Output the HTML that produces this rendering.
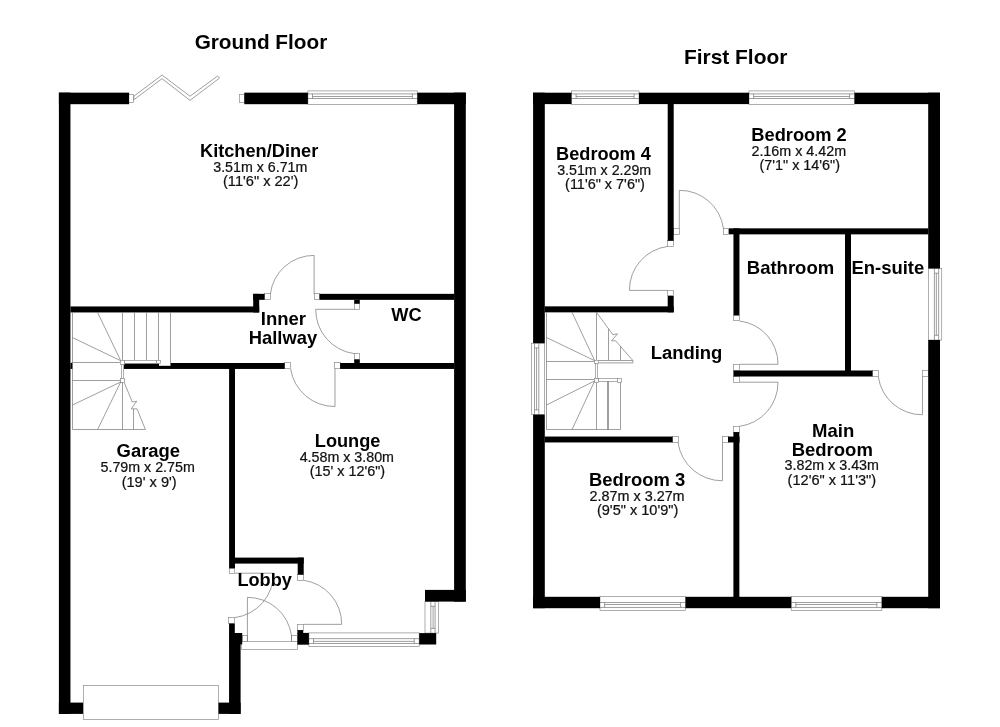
<!DOCTYPE html>
<html><head><meta charset="utf-8"><title>Floor Plan</title>
<style>
html,body{margin:0;padding:0;background:#fff;}
body{width:1000px;height:727px;overflow:hidden;font-family:"Liberation Sans",sans-serif;}
svg{display:block;}
.w{fill:#000;}
.wh{fill:#fff;}
.j{fill:#fff;stroke:#8c8c8c;stroke-width:0.7;}
.t{fill:none;stroke:#767676;stroke-width:0.7;}
.tf{fill:#fff;stroke:#767676;stroke-width:0.7;stroke-linejoin:miter;}
text{font-family:"Liberation Sans",sans-serif;text-anchor:start;fill:#000;}
.h1{font-weight:bold;}
.b{font-weight:bold;}
.r{fill:#111;stroke:#111;stroke-width:0.22px;}
</style></head>
<body>
<svg style="filter:grayscale(1)" width="1000" height="727" viewBox="0 0 1000 727">
<rect x="0" y="0" width="1000" height="727" fill="#fff"/>
<g id="thin">
<rect class="j" x="307.90" y="90.90" width="109.40" height="13.60"/>
<line class="t" x1="307.90" y1="93.90" x2="417.30" y2="93.90"/>
<line class="t" x1="307.90" y1="98.50" x2="417.30" y2="98.50"/>
<line class="t" x1="312.50" y1="96.50" x2="412.40" y2="96.50"/>
<line class="t" x1="312.50" y1="93.90" x2="312.50" y2="98.50"/>
<line class="t" x1="412.40" y1="93.90" x2="412.40" y2="98.50"/>
<rect class="j" x="308.90" y="632.90" width="110.30" height="13.50"/>
<line class="t" x1="308.90" y1="643.50" x2="419.20" y2="643.50"/>
<line class="t" x1="308.90" y1="638.65" x2="419.20" y2="638.65"/>
<line class="t" x1="313.50" y1="641.40" x2="414.30" y2="641.40"/>
<line class="t" x1="313.50" y1="643.50" x2="313.50" y2="638.65"/>
<line class="t" x1="414.30" y1="643.50" x2="414.30" y2="638.65"/>
<rect class="j" x="425.00" y="601.60" width="13.50" height="31.50"/>
<line class="t" x1="435.10" y1="601.60" x2="435.10" y2="633.10"/>
<line class="t" x1="430.80" y1="601.60" x2="430.80" y2="633.10"/>
<line class="t" x1="433.10" y1="606.30" x2="433.10" y2="628.40"/>
<line class="t" x1="435.10" y1="606.30" x2="430.80" y2="606.30"/>
<line class="t" x1="435.10" y1="628.40" x2="430.80" y2="628.40"/>
<rect class="j" x="83.50" y="685.50" width="135.00" height="34.00"/>
<rect class="j" x="128.50" y="94.50" width="5.00" height="8.00"/>
<rect class="j" x="239.50" y="94.50" width="5.00" height="8.00"/>
<path class="tf" d="M133.8,96.2 L162.05,75.1 L190,96.2 L217.6,76 L219.6,78 L190,100.4 L162.05,78.65 L133.8,99.8 Z"/>
<rect class="j" x="264.50" y="293.50" width="6.00" height="6.00"/>
<rect class="j" x="314.50" y="293.50" width="5.00" height="6.00"/>
<path class="t" d="M314.10,293.90 L314.10,255.40 A43.70,43.70 0 0 0 270.40,293.90"/>
<rect class="j" x="354.50" y="303.50" width="5.00" height="6.00"/>
<rect class="j" x="354.50" y="353.50" width="5.00" height="6.00"/>
<path class="t" d="M354.20,309.30 L315.70,309.30 A44.30,44.30 0 0 0 354.20,353.60"/>
<rect class="j" x="284.50" y="362.50" width="6.00" height="6.00"/>
<rect class="j" x="334.50" y="362.50" width="6.00" height="6.00"/>
<path class="t" d="M335.00,368.70 L335.00,406.50 A44.40,44.40 0 0 1 290.60,368.70"/>
<rect class="j" x="229.50" y="568.50" width="5.00" height="5.00"/>
<rect class="j" x="228.50" y="617.50" width="6.00" height="6.00"/>
<path class="t" d="M235.00,573.20 L273.50,573.20 A44.40,44.40 0 0 1 234.80,617.60"/>
<rect class="j" x="297.50" y="574.50" width="6.00" height="6.00"/>
<rect class="j" x="297.50" y="624.50" width="6.00" height="6.00"/>
<path class="t" d="M303.40,624.35 L341.70,624.35 A44.05,44.05 0 0 0 303.60,580.30"/>
<rect class="j" x="241.50" y="641.50" width="56.00" height="8.00"/>
<rect class="j" x="242.50" y="635.50" width="5.00" height="6.00"/>
<rect class="j" x="291.50" y="635.50" width="6.00" height="6.00"/>
<path class="t" d="M247.40,641.40 L247.40,597.40 A44.10,44.10 0 0 1 291.50,635.60"/>
<line class="t" x1="291.50" y1="635.40" x2="291.50" y2="641.40"/>
<rect class="j" x="571.50" y="90.90" width="67.50" height="13.60"/>
<line class="t" x1="571.50" y1="93.90" x2="639.00" y2="93.90"/>
<line class="t" x1="571.50" y1="98.50" x2="639.00" y2="98.50"/>
<line class="t" x1="576.10" y1="96.50" x2="634.10" y2="96.50"/>
<line class="t" x1="576.10" y1="93.90" x2="576.10" y2="98.50"/>
<line class="t" x1="634.10" y1="93.90" x2="634.10" y2="98.50"/>
<rect class="j" x="749.00" y="90.90" width="105.50" height="13.60"/>
<line class="t" x1="749.00" y1="93.90" x2="854.50" y2="93.90"/>
<line class="t" x1="749.00" y1="98.50" x2="854.50" y2="98.50"/>
<line class="t" x1="753.60" y1="96.50" x2="849.60" y2="96.50"/>
<line class="t" x1="753.60" y1="93.90" x2="753.60" y2="98.50"/>
<line class="t" x1="849.60" y1="93.90" x2="849.60" y2="98.50"/>
<rect class="j" x="600.00" y="596.44" width="85.50" height="14.16"/>
<line class="t" x1="600.00" y1="607.45" x2="685.50" y2="607.45"/>
<line class="t" x1="600.00" y1="602.50" x2="685.50" y2="602.50"/>
<line class="t" x1="604.60" y1="604.50" x2="680.60" y2="604.50"/>
<line class="t" x1="604.60" y1="607.45" x2="604.60" y2="602.50"/>
<line class="t" x1="680.60" y1="607.45" x2="680.60" y2="602.50"/>
<rect class="j" x="791.25" y="596.44" width="90.55" height="14.16"/>
<line class="t" x1="791.25" y1="607.45" x2="881.80" y2="607.45"/>
<line class="t" x1="791.25" y1="602.50" x2="881.80" y2="602.50"/>
<line class="t" x1="795.85" y1="604.50" x2="876.90" y2="604.50"/>
<line class="t" x1="795.85" y1="607.45" x2="795.85" y2="602.50"/>
<line class="t" x1="876.90" y1="607.45" x2="876.90" y2="602.50"/>
<rect class="j" x="531.40" y="343.20" width="13.20" height="71.40"/>
<line class="t" x1="534.50" y1="343.20" x2="534.50" y2="414.60"/>
<line class="t" x1="538.80" y1="343.20" x2="538.80" y2="414.60"/>
<line class="t" x1="536.55" y1="347.90" x2="536.55" y2="409.90"/>
<line class="t" x1="534.50" y1="347.90" x2="538.80" y2="347.90"/>
<line class="t" x1="534.50" y1="409.90" x2="538.80" y2="409.90"/>
<rect class="j" x="928.50" y="268.50" width="13.20" height="71.50"/>
<line class="t" x1="938.65" y1="268.50" x2="938.65" y2="340.00"/>
<line class="t" x1="934.40" y1="268.50" x2="934.40" y2="340.00"/>
<line class="t" x1="936.35" y1="273.20" x2="936.35" y2="335.30"/>
<line class="t" x1="938.65" y1="273.20" x2="934.40" y2="273.20"/>
<line class="t" x1="938.65" y1="335.30" x2="934.40" y2="335.30"/>
<rect class="j" x="673.50" y="228.50" width="6.00" height="6.00"/>
<rect class="j" x="723.50" y="228.50" width="5.00" height="6.00"/>
<path class="t" d="M679.30,228.30 L679.30,190.30 A44.10,44.10 0 0 1 723.40,228.30"/>
<rect class="j" x="667.50" y="240.50" width="6.00" height="6.00"/>
<rect class="j" x="667.50" y="290.50" width="6.00" height="5.00"/>
<path class="t" d="M667.70,290.40 L629.40,290.40 A44.00,44.00 0 0 1 667.70,246.40"/>
<rect class="j" x="733.50" y="315.50" width="6.00" height="5.00"/>
<rect class="j" x="733.50" y="364.50" width="6.00" height="6.00"/>
<path class="t" d="M739.50,364.30 L778.00,364.30 A43.30,43.30 0 0 0 739.50,321.00"/>
<rect class="j" x="733.50" y="376.50" width="6.00" height="6.00"/>
<rect class="j" x="733.50" y="426.50" width="6.00" height="6.00"/>
<path class="t" d="M739.50,382.20 L778.00,382.20 A44.10,44.10 0 0 1 739.50,426.30"/>
<rect class="j" x="672.50" y="436.50" width="6.00" height="6.00"/>
<rect class="j" x="722.50" y="436.50" width="6.00" height="6.00"/>
<path class="t" d="M722.50,442.50 L722.50,480.75 A44.50,44.50 0 0 1 678.00,442.50"/>
<rect class="j" x="872.50" y="370.50" width="6.00" height="6.00"/>
<rect class="j" x="922.50" y="370.50" width="6.00" height="6.00"/>
<path class="t" d="M922.50,376.50 L922.50,414.75 A44.25,44.25 0 0 1 878.25,376.50"/>
</g>
<g id="walls">
<rect class="w" x="58.90" y="92.65" width="11.55" height="621.25"/>
<rect class="w" x="58.90" y="92.65" width="70.20" height="11.55"/>
<rect class="w" x="244.30" y="92.65" width="63.60" height="11.55"/>
<rect class="w" x="417.30" y="92.65" width="48.50" height="11.55"/>
<rect class="w" x="454.10" y="92.65" width="11.70" height="508.95"/>
<rect class="w" x="425.00" y="589.90" width="40.80" height="11.70"/>
<rect class="w" x="58.90" y="702.60" width="24.16" height="11.30"/>
<rect class="w" x="218.50" y="702.60" width="22.10" height="11.30"/>
<rect class="w" x="229.06" y="644.00" width="11.54" height="69.90"/>
<rect class="w" x="229.06" y="623.50" width="5.74" height="10.50"/>
<rect class="w" x="229.06" y="633.00" width="13.14" height="11.40"/>
<rect class="w" x="229.10" y="363.00" width="5.90" height="205.30"/>
<rect class="w" x="70.45" y="306.45" width="188.75" height="6.00"/>
<rect class="w" x="253.20" y="293.85" width="6.00" height="18.60"/>
<rect class="w" x="253.20" y="293.85" width="11.40" height="6.00"/>
<rect class="w" x="319.50" y="293.85" width="134.60" height="6.00"/>
<rect class="w" x="354.20" y="299.80" width="5.60" height="3.90"/>
<rect class="w" x="354.20" y="359.40" width="5.60" height="4.00"/>
<rect class="w" x="124.00" y="363.00" width="160.70" height="5.95"/>
<rect class="w" x="340.10" y="363.00" width="114.00" height="5.95"/>
<rect class="w" x="70.40" y="362.80" width="2.20" height="6.15"/>
<rect class="w" x="234.90" y="557.60" width="68.80" height="6.00"/>
<rect class="w" x="297.70" y="557.60" width="6.00" height="17.10"/>
<rect class="w" x="297.40" y="630.10" width="5.80" height="3.90"/>
<rect class="w" x="297.40" y="632.90" width="11.50" height="11.80"/>
<rect class="w" x="419.20" y="633.10" width="17.00" height="11.40"/>
<rect class="w" x="533.10" y="92.70" width="11.70" height="250.50"/>
<rect class="w" x="533.10" y="414.60" width="11.70" height="193.60"/>
<rect class="w" x="533.10" y="92.70" width="38.40" height="11.40"/>
<rect class="w" x="639.00" y="92.70" width="110.00" height="11.40"/>
<rect class="w" x="854.50" y="92.70" width="85.50" height="11.40"/>
<rect class="w" x="928.20" y="92.70" width="11.80" height="175.80"/>
<rect class="w" x="928.20" y="340.00" width="11.80" height="268.20"/>
<rect class="w" x="533.10" y="596.80" width="66.90" height="11.40"/>
<rect class="w" x="685.50" y="596.80" width="105.75" height="11.40"/>
<rect class="w" x="881.80" y="596.80" width="58.20" height="11.40"/>
<rect class="w" x="667.70" y="103.50" width="6.00" height="137.30"/>
<rect class="w" x="728.90" y="228.35" width="199.40" height="6.00"/>
<rect class="w" x="733.45" y="228.35" width="6.00" height="86.95"/>
<rect class="w" x="845.00" y="234.00" width="6.00" height="142.00"/>
<rect class="w" x="733.40" y="370.50" width="139.10" height="6.00"/>
<rect class="w" x="544.70" y="306.35" width="129.00" height="6.00"/>
<rect class="w" x="667.70" y="295.90" width="6.00" height="16.45"/>
<rect class="w" x="544.70" y="436.55" width="127.90" height="5.90"/>
<rect class="w" x="728.00" y="436.55" width="11.50" height="5.90"/>
<rect class="w" x="733.40" y="432.10" width="5.95" height="164.90"/>
<rect class="wh" x="159.00" y="362.60" width="11.50" height="3.20"/>
<line class="t" x1="72.50" y1="312.45" x2="72.50" y2="429.50"/>
<line class="t" x1="122.50" y1="312.45" x2="122.50" y2="360.40"/>
<line class="t" x1="134.50" y1="312.45" x2="134.50" y2="360.40"/>
<line class="t" x1="146.50" y1="312.45" x2="146.50" y2="360.40"/>
<line class="t" x1="158.50" y1="312.45" x2="158.50" y2="360.40"/>
<line class="t" x1="170.50" y1="312.45" x2="170.50" y2="365.80"/>
<line class="t" x1="72.50" y1="362.50" x2="120.70" y2="362.50"/>
<line class="t" x1="120.70" y1="360.70" x2="97.60" y2="312.45"/>
<line class="t" x1="120.70" y1="360.70" x2="72.50" y2="337.60"/>
<rect class="j" x="124.50" y="360.50" width="32.00" height="3.00"/>
<rect class="j" x="120.50" y="360.50" width="4.00" height="4.00"/>
<rect class="j" x="156.50" y="360.50" width="4.00" height="3.00"/>
<rect class="j" x="121.50" y="364.50" width="2.00" height="14.00"/>
<rect class="j" x="120.50" y="378.50" width="4.00" height="4.00"/>
<line class="t" x1="72.50" y1="380.50" x2="120.70" y2="380.50"/>
<line class="t" x1="120.70" y1="382.00" x2="72.50" y2="405.00"/>
<line class="t" x1="120.70" y1="382.00" x2="97.60" y2="429.50"/>
<line class="t" x1="122.50" y1="382.40" x2="122.50" y2="429.50"/>
<line class="t" x1="72.50" y1="429.50" x2="145.40" y2="429.50"/>
<path class="t" d="M124.2,382.5 L132.3,402 L136.7,401.2 L131.3,408.9 L137,408.9 L145.4,429.5"/>
<line class="t" x1="133.50" y1="408.90" x2="133.50" y2="429.50"/>
<line class="t" x1="546.50" y1="312.35" x2="546.50" y2="429.60"/>
<line class="t" x1="546.50" y1="429.50" x2="620.30" y2="429.50"/>
<line class="t" x1="596.50" y1="312.35" x2="596.50" y2="360.30"/>
<line class="t" x1="596.50" y1="382.20" x2="596.50" y2="429.60"/>
<line class="t" x1="546.50" y1="361.50" x2="594.70" y2="361.50"/>
<line class="t" x1="594.70" y1="360.70" x2="572.00" y2="312.35"/>
<line class="t" x1="594.70" y1="360.70" x2="546.50" y2="337.50"/>
<line class="t" x1="546.50" y1="379.50" x2="594.70" y2="379.50"/>
<line class="t" x1="594.70" y1="380.90" x2="546.50" y2="405.00"/>
<line class="t" x1="594.70" y1="380.90" x2="572.00" y2="429.60"/>
<path class="t" d="M596.5,312.4 L612.9,334.7 L617.5,333.8 L611.6,340.8 L615.6,340.8 L632.9,360.5"/>
<line class="t" x1="608.50" y1="329.10" x2="608.50" y2="360.30"/>
<line class="t" x1="620.50" y1="346.20" x2="620.50" y2="360.30"/>
<path class="tf" d="M598.4,360.5 L632.9,360.5 L632.9,362.9 L598.4,362.9"/>
<rect class="j" x="595.50" y="363.50" width="2.00" height="15.00"/>
<rect class="j" x="594.50" y="360.50" width="4.00" height="3.00"/>
<rect class="j" x="594.50" y="378.50" width="4.00" height="4.00"/>
<rect class="j" x="598.50" y="378.50" width="19.00" height="3.00"/>
<rect class="j" x="617.50" y="378.50" width="4.00" height="4.00"/>
<line class="t" x1="607.50" y1="381.10" x2="607.50" y2="429.60"/>
<line class="t" x1="608.50" y1="381.10" x2="608.50" y2="429.60"/>
<line class="t" x1="620.50" y1="382.20" x2="620.50" y2="429.60"/>
</g>
<g id="labels">
<text class="h1" x="194.67" y="48.90" font-size="20.76">Ground Floor</text>
<text class="h1" x="683.88" y="64.30" font-size="20.95">First Floor</text>
<text class="b" x="200.02" y="157.00" font-size="18.21">Kitchen/Diner</text>
<text class="r" x="213.23" y="172.00" font-size="14.24">3.51m x 6.71m</text>
<text class="r" x="223.00" y="185.90" font-size="14.60">(11&#x27;6&quot; x 22&#x27;)</text>
<text class="b" x="260.80" y="324.90" font-size="18.50">Inner</text>
<text class="b" x="248.77" y="343.86" font-size="18.37">Hallway</text>
<text class="b" x="391.30" y="321.00" font-size="18.23">WC</text>
<text class="b" x="116.56" y="457.30" font-size="18.46">Garage</text>
<text class="r" x="100.53" y="472.30" font-size="14.25">5.79m x 2.75m</text>
<text class="r" x="121.63" y="487.00" font-size="14.60">(19&#x27; x 9&#x27;)</text>
<text class="b" x="314.82" y="447.00" font-size="18.18">Lounge</text>
<text class="r" x="299.64" y="461.70" font-size="14.28">4.58m x 3.80m</text>
<text class="r" x="309.64" y="475.70" font-size="14.41">(15&#x27; x 12&#x27;6&quot;)</text>
<text class="b" x="237.42" y="586.30" font-size="18.16">Lobby</text>
<text class="b" x="556.11" y="160.10" font-size="18.15">Bedroom 4</text>
<text class="r" x="557.13" y="174.60" font-size="14.22">3.51m x 2.29m</text>
<text class="r" x="565.08" y="188.90" font-size="14.46">(11&#x27;6&quot; x 7&#x27;6&quot;)</text>
<text class="b" x="751.31" y="140.60" font-size="18.26">Bedroom 2</text>
<text class="r" x="751.43" y="155.70" font-size="14.33">2.16m x 4.42m</text>
<text class="r" x="759.54" y="169.80" font-size="14.38">(7&#x27;1&quot; x 14&#x27;6&quot;)</text>
<text class="b" x="746.79" y="274.10" font-size="18.50">Bathroom</text>
<text class="b" x="851.50" y="274.10" font-size="18.47">En-suite</text>
<text class="b" x="650.70" y="358.60" font-size="18.46">Landing</text>
<text class="b" x="589.05" y="486.30" font-size="18.41">Bedroom 3</text>
<text class="r" x="589.53" y="500.60" font-size="14.38">2.87m x 3.27m</text>
<text class="r" x="596.93" y="514.80" font-size="14.55">(9&#x27;5&quot; x 10&#x27;9&quot;)</text>
<text class="b" x="812.08" y="437.20" font-size="18.50">Main</text>
<text class="b" x="791.67" y="455.50" font-size="18.50">Bedroom</text>
<text class="r" x="784.58" y="470.00" font-size="14.28">3.82m x 3.43m</text>
<text class="r" x="787.57" y="484.90" font-size="14.59">(12&#x27;6&quot; x 11&#x27;3&quot;)</text>
</g>
</svg>
</body></html>
